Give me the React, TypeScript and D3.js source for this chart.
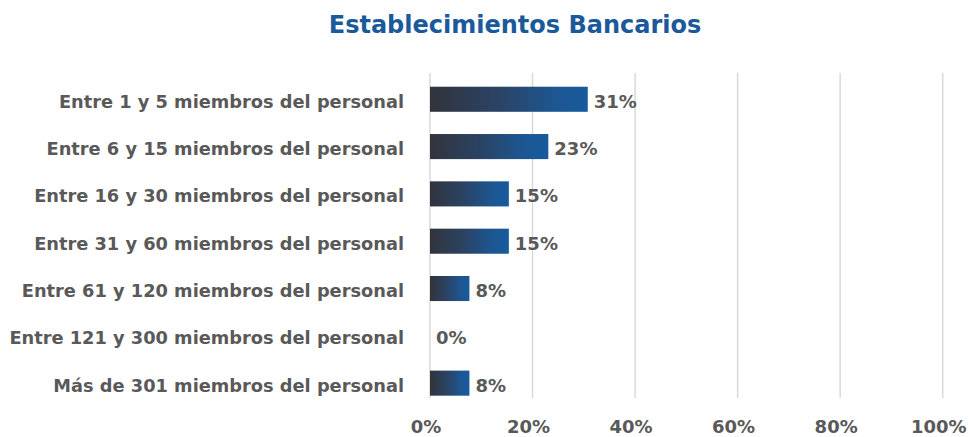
import React from "react";
import * as d3 from "d3";

const title = "Establecimientos Bancarios";
const categories = [
  "Entre 1 y 5 miembros del personal",
  "Entre 6 y 15 miembros del personal",
  "Entre 16 y 30 miembros del personal",
  "Entre 31 y 60 miembros del personal",
  "Entre 61 y 120 miembros del personal",
  "Entre 121 y 300 miembros del personal",
  "Más de 301 miembros del personal",
];
const values = [0.3077, 0.2308, 0.1538, 0.1538, 0.0769, 0, 0.0769];
const ticks = [0, 0.2, 0.4, 0.6, 0.8, 1.0];

const W = 969;
const H = 437;
const FONT = "'DejaVu Sans', sans-serif";
const GRAY = "#595959";

export default function App() {
  const x = d3.scaleLinear().domain([0, 1]).range([430, 942.7]);
  const y = d3
    .scaleBand<string>()
    .domain(categories)
    .range([75.6, 406.8])
    .paddingInner(0.47)
    .paddingOuter(0.235);
  const fmt = d3.format(".0%");
  const bw = y.bandwidth();

  return (
    <svg
      width={W}
      height={H}
      style={{ position: "absolute", left: 0, top: 0, background: "#fff" }}
    >
      <defs>
        <linearGradient id="barGrad" x1="0" y1="0" x2="1" y2="0">
          <stop offset="0" stopColor="#32343c" />
          <stop offset="0.45" stopColor="#2a4466" />
          <stop offset="0.8" stopColor="#1c5793" />
          <stop offset="1" stopColor="#185a9c" />
        </linearGradient>
      </defs>
      <text
        x={515}
        y={33}
        textAnchor="middle"
        fontFamily={FONT}
        fontWeight="bold"
        fontSize={24}
        fill="#1b5a9a"
      >
        {title}
      </text>
      {ticks.map((t) => (
        <line
          key={"g" + t}
          x1={x(t)}
          x2={x(t)}
          y1={73}
          y2={398}
          stroke="#d9d9d9"
          strokeWidth={1.5}
        />
      ))}
      {categories.map((c, i) => {
        const yc = (y(c) as number) + bw / 2;
        return (
          <g key={c}>
            {values[i] > 0 && (
              <rect
                x={x(0)}
                y={y(c)}
                width={x(values[i]) - x(0)}
                height={bw}
                fill="url(#barGrad)"
              />
            )}
            <text
              x={404}
              y={yc + 8.5}
              textAnchor="end"
              fontFamily={FONT}
              fontWeight="bold"
              fontSize={17.8}
              fill={GRAY}
            >
              {c}
            </text>
            <text
              x={x(values[i]) + 6}
              y={yc + 8.5}
              textAnchor="start"
              fontFamily={FONT}
              fontWeight="bold"
              fontSize={18}
              fill={GRAY}
            >
              {fmt(values[i])}
            </text>
          </g>
        );
      })}
      {ticks.map((t) => (
        <text
          key={"t" + t}
          x={x(t) - 4}
          y={433}
          textAnchor="middle"
          fontFamily={FONT}
          fontWeight="bold"
          fontSize={18}
          fill={GRAY}
        >
          {fmt(t)}
        </text>
      ))}
    </svg>
  );
}
